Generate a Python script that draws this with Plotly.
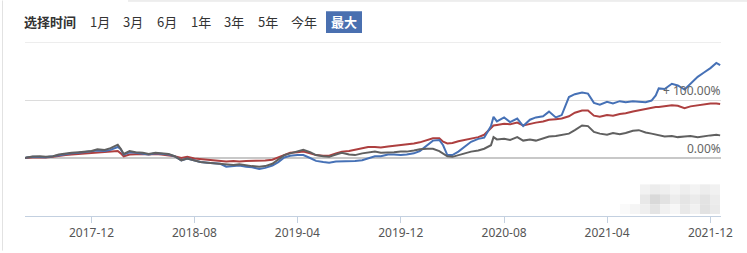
import plotly.graph_objects as go

dates = [
    "2017-06-27", "2017-07-01", "2017-07-15", "2017-08-01", "2017-08-15", "2017-09-01", "2017-09-15",
    "2017-10-01", "2017-10-15", "2017-11-01", "2017-11-15", "2017-12-01", "2017-12-15",
    "2018-01-01", "2018-01-15", "2018-02-01", "2018-02-08", "2018-02-15", "2018-03-01", "2018-03-15",
    "2018-04-01", "2018-04-15", "2018-05-01", "2018-05-15", "2018-06-01", "2018-06-15",
    "2018-07-01", "2018-07-15", "2018-08-01", "2018-08-15", "2018-09-01", "2018-09-15",
    "2018-10-01", "2018-10-15", "2018-11-01", "2018-11-15", "2018-12-01", "2018-12-15",
    "2019-01-01", "2019-01-15", "2019-02-01", "2019-02-15", "2019-03-01", "2019-03-15",
    "2019-04-01", "2019-04-15", "2019-05-01", "2019-05-15", "2019-06-01", "2019-06-15",
    "2019-07-01", "2019-07-15", "2019-08-01", "2019-08-15", "2019-09-01", "2019-09-15",
    "2019-10-01", "2019-10-15", "2019-11-01", "2019-11-15", "2019-12-01", "2019-12-15",
    "2020-01-01", "2020-01-15", "2020-02-01", "2020-02-15", "2020-03-01", "2020-03-10",
    "2020-03-20", "2020-04-01", "2020-04-15", "2020-05-01", "2020-05-15", "2020-06-01",
    "2020-06-15", "2020-07-01", "2020-07-07", "2020-07-15", "2020-08-01", "2020-08-15",
    "2020-09-01", "2020-09-15", "2020-10-01", "2020-10-15", "2020-11-01", "2020-11-15",
    "2020-12-01", "2020-12-15", "2021-01-01", "2021-01-15", "2021-02-01", "2021-02-15",
    "2021-03-01", "2021-03-15", "2021-04-01", "2021-04-15", "2021-05-01", "2021-05-15",
    "2021-06-01", "2021-06-15", "2021-07-01", "2021-07-15", "2021-07-25", "2021-08-01",
    "2021-08-15", "2021-09-01", "2021-09-15", "2021-10-01", "2021-10-15", "2021-11-01",
    "2021-11-15", "2021-12-01", "2021-12-15", "2021-12-24",
]

fund_blue = [
    0, 1, 2, 2, 1.5, 3, 5,
    7, 8, 9, 10, 11, 13,
    12, 14, 19, 15, 6, 10, 9,
    8, 6, 8, 7, 6, 3,
    -4, -1, -5, -7, -8, -9,
    -10, -15, -14, -13, -15, -16,
    -19, -17, -13, -7, 1, 4,
    5, 5, 0, -5, -7, -8,
    -6, -6, -5, -5, -4, -1,
    3, 3, 6, 6, 5, 6,
    8, 12, 22, 30, 31, 22,
    5, 5, 11, 20, 28, 33,
    35, 55, 71, 63, 70, 62,
    68, 55, 66, 70, 72, 80,
    70, 74, 105, 110, 113, 111,
    95, 92, 97, 94, 98, 96,
    98, 97, 96, 99, 108, 120,
    119, 128, 125, 118, 128, 140,
    147, 155, 164, 160,
]

benchmark_red = [
    0, 0.5, 1, 1.5, 1, 2, 4,
    5, 6, 7, 8, 9, 9,
    10, 11, 12, 8, 3, 6, 7,
    7, 6, 7, 6, 5, 3,
    0, 2, -1, -2, -3, -3,
    -5, -6, -5, -6, -5, -5,
    -5, -4.5, -3, 1, 5, 9,
    10, 11, 8, 5, 4, 4,
    8, 11, 12, 14, 17, 19,
    19, 18, 20, 21, 22, 23,
    25, 27, 31, 34, 34, 28,
    25, 26, 29, 31, 34, 36,
    40, 52, 56, 57, 59, 58,
    61, 56, 59, 61, 63, 66,
    67, 68, 72, 78, 82, 82,
    73, 71, 74, 73, 76, 77,
    80, 82, 84, 87, 88, 88,
    89, 91, 90, 86, 89, 91,
    92, 94, 94, 93,
]

index_gray = [
    0, 1, 2.5, 3, 2, 3, 6,
    8, 9, 10, 11, 12, 15,
    14, 17, 23, 16, 7, 12, 10,
    9, 7, 9, 8, 7, 3,
    -4, -1, -5, -7, -8, -9,
    -10, -12, -12, -11, -13, -14,
    -15, -14, -10, -3, 5, 8,
    12, 14, 10, 5, 3, 2,
    6, 9, 6, 5, 8, 9,
    11, 9, 9, 10, 11, 11,
    13, 15, 16, 16, 12, 7,
    3, 2, 5, 8, 11, 13,
    16, 22, 36, 32, 33, 31,
    36, 30, 32, 30, 34, 37,
    38, 40, 42, 48, 56, 55,
    45, 42, 40, 43, 41, 43,
    47, 48, 44, 42, 40, 39,
    37, 38, 36, 37, 38, 36,
    38, 39, 40, 39,
]

tick_dates = ["2017-12-01", "2018-08-01", "2019-04-01", "2019-12-01",
              "2020-08-01", "2021-04-01", "2021-12-01"]
tick_labels = ["2017-12", "2018-08", "2019-04", "2019-12", "2020-08", "2021-04", "2021-12"]

header_title = "选择时间"
header_buttons = ["1月", "3月", "6月", "1年", "3年", "5年", "今年"]
active_button = "最大"

W, H = 747, 253
ML, MR, MT, MB = 25, 26, 42, 35
PW, PH = W - ML - MR, H - MT - MB


def px(x):
    return (x - ML) / PW


def py(y):
    return (H - MB - y) / PH


fig = go.Figure()
fig.add_trace(go.Scatter(x=dates, y=benchmark_red, mode="lines",
                         line=dict(color="#ad3f3f", width=2), hoverinfo="skip"))
fig.add_trace(go.Scatter(x=dates, y=fund_blue, mode="lines",
                         line=dict(color="#4671b6", width=2), hoverinfo="skip"))
fig.add_trace(go.Scatter(x=dates, y=index_gray, mode="lines",
                         line=dict(color="#606060", width=2), hoverinfo="skip"))

annotations = []
annotations.append(dict(text="<b>" + header_title + "</b>", x=px(22), y=py(21),
                        xref="paper", yref="paper", xanchor="left", yanchor="middle",
                        showarrow=False,
                        font=dict(family="Noto Sans CJK SC", size=13, color="#333333")))
btn_centers = [99.5, 133, 166.5, 200.5, 234, 267.5, 304]
for lbl, cx in zip(header_buttons, btn_centers):
    annotations.append(dict(text=lbl, x=px(cx), y=py(21), xref="paper", yref="paper",
                            xanchor="center", yanchor="middle", showarrow=False,
                            font=dict(family="Noto Sans CJK SC", size=13, color="#333333")))
annotations.append(dict(text="<b>" + active_button + "</b>", x=px(344), y=py(21),
                        xref="paper", yref="paper", xanchor="center", yanchor="middle",
                        showarrow=False,
                        font=dict(family="Noto Sans CJK SC", size=13, color="#ffffff")))

for val, lbl in [(100, "+ 100.00%"), (0, "0.00%")]:
    annotations.append(dict(text=lbl, x=1, y=val, xref="paper", yref="y",
                            xanchor="right", yanchor="bottom", showarrow=False,
                            xshift=2, yshift=-1,
                            font=dict(family="Noto Sans", size=12, color="#666666")))

shapes = []
# top gridline (200%)
shapes.append(dict(type="line", xref="paper", yref="y", x0=0, x1=1, y0=200, y1=200,
                   line=dict(color="#dcdcdc", width=1), layer="below"))
# active button background
shapes.append(dict(type="rect", xref="paper", yref="paper", x0=px(326), x1=px(362),
                   y0=py(33), y1=py(11), fillcolor="#4a70b0", line=dict(width=0),
                   layer="below"))
# page frame lines
shapes.append(dict(type="line", xref="paper", yref="paper", x0=px(128), x1=px(747),
                   y0=py(0.5), y1=py(0.5), line=dict(color="#dddddd", width=1)))
shapes.append(dict(type="line", xref="paper", yref="paper", x0=px(2.5), x1=px(2.5),
                   y0=py(0), y1=py(253), line=dict(color="#e2e2e2", width=1)))
# mosaic (pixelated watermark)
mosaic = [
    (640, 186, "#f2f2f2"), (650, 186, "#ececec"), (660, 186, "#efefef"), (670, 186, "#f4f4f4"),
    (680, 186, "#eeeeee"), (690, 186, "#f3f3f3"), (700, 186, "#ededed"), (710, 186, "#f1f1f1"),
    (640, 196, "#e8e8e8"), (650, 196, "#d9d9d9"), (660, 196, "#e2e2e2"), (670, 196, "#ededed"),
    (680, 196, "#e5e5e5"), (690, 196, "#ebebeb"), (700, 196, "#e3e3e3"), (710, 196, "#ececec"),
    (620, 206, "#fafafa"), (630, 206, "#f5f5f5"), (640, 206, "#efefef"), (650, 206, "#e4e4e4"),
    (660, 206, "#f1f1f1"), (670, 206, "#f7f7f7"), (680, 206, "#e9e9e9"), (690, 206, "#f1f1f1"),
    (700, 206, "#e2e2e2"), (710, 206, "#eaeaea"),
]
for mx, my, c in mosaic:
    shapes.append(dict(type="rect", xref="paper", yref="paper", x0=px(mx), x1=px(mx + 10),
                       y0=py(my + 10), y1=py(my), fillcolor=c, line=dict(width=0),
                       layer="above"))

fig.update_layout(
    width=W, height=H,
    margin=dict(l=ML, r=MR, t=MT, b=MB),
    paper_bgcolor="#ffffff", plot_bgcolor="#ffffff",
    showlegend=False,
    annotations=annotations,
    shapes=shapes,
    xaxis=dict(type="date", range=["2017-06-27", "2021-12-26"],
               tickmode="array", tickvals=tick_dates, ticktext=tick_labels,
               ticks="outside", ticklen=6, tickcolor="#c3d0e0",
               showline=True, linecolor="#c3d0e0", linewidth=1,
               showgrid=False, zeroline=False,
               tickfont=dict(family="Noto Sans", size=12, color="#555555")),
    yaxis=dict(range=[-100, 200], tickmode="array", tickvals=[-100, 0, 100, 200],
               showticklabels=False, showgrid=True, gridcolor="#dcdcdc", gridwidth=1,
               zeroline=True, zerolinecolor="#c8c8c8", zerolinewidth=2,
               showline=False, ticks=""),
)

fig.write_html("out.html")
